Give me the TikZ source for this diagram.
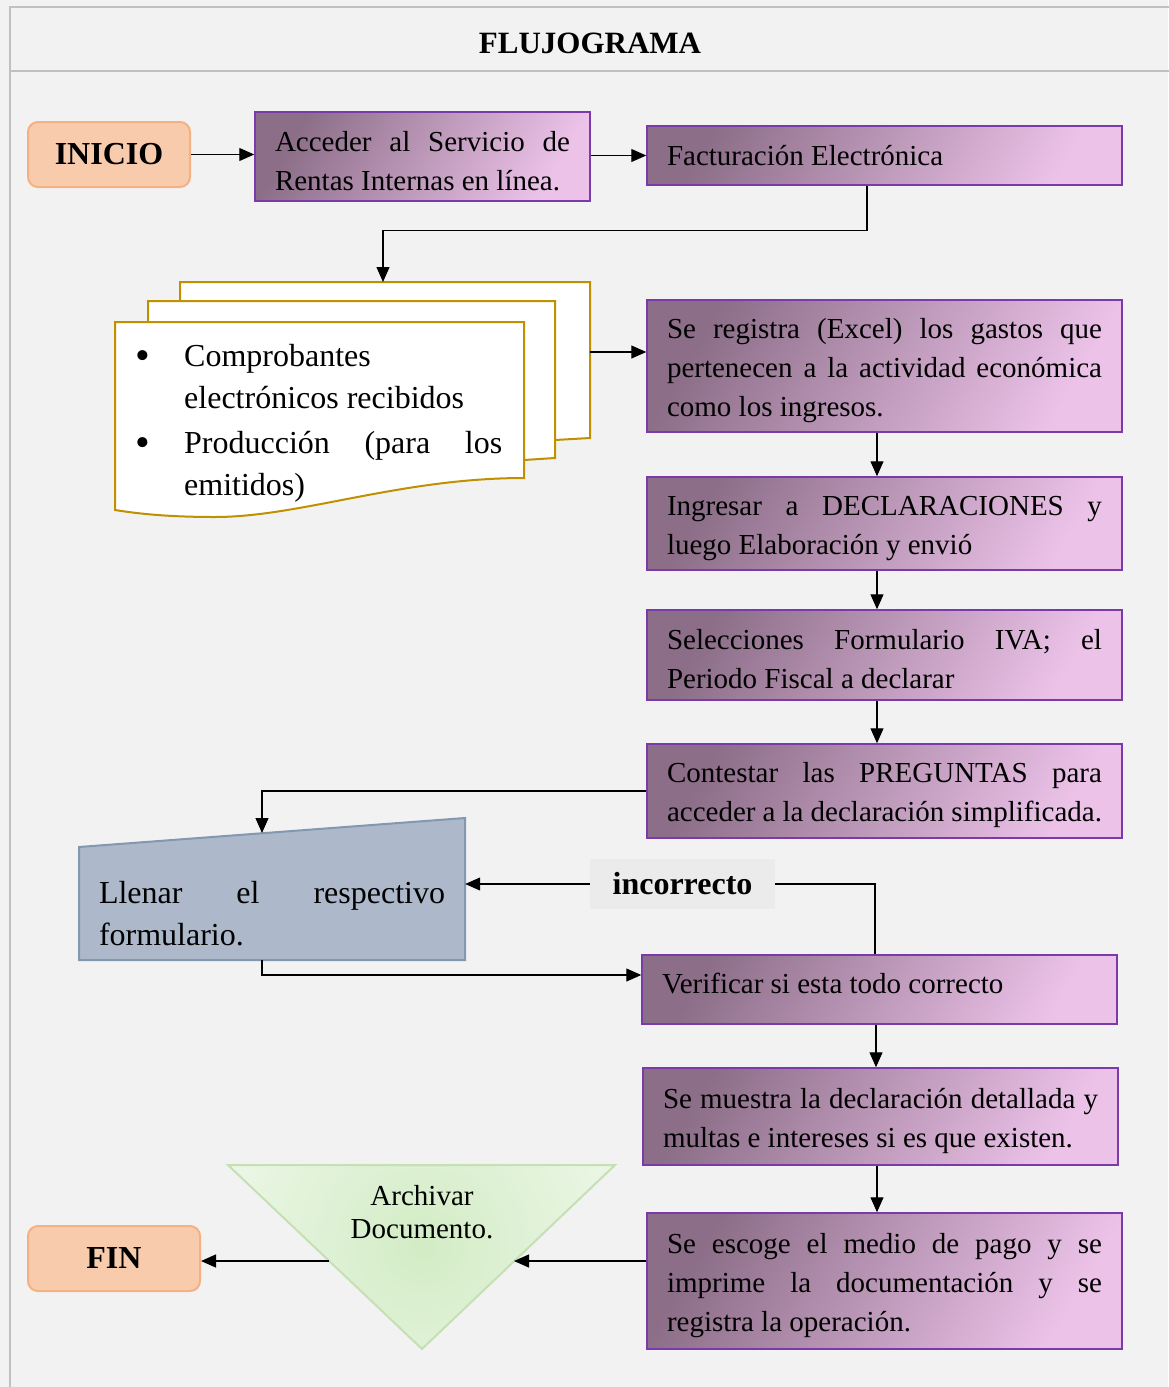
\documentclass[tikz,border=0pt]{standalone}
\usepackage{fontspec}
\setmainfont{Liberation Serif}
\usetikzlibrary{calc, positioning, arrows.meta}
\definecolor{bgGray}{HTML}{F2F2F2}
\definecolor{frameLine}{HTML}{C0C0C0}
\definecolor{peachFill}{HTML}{F8CBAD}
\definecolor{peachLine}{HTML}{F4B183}
\definecolor{boxLine}{HTML}{7A3AAA}
\definecolor{boxDark}{HTML}{8C6E88}
\definecolor{boxLight}{HTML}{ECC2E9}
\definecolor{docLine}{HTML}{BF9000}
\definecolor{slateFill}{HTML}{ADB9CA}
\definecolor{slateLine}{HTML}{8497B0}
\definecolor{greenIn}{HTML}{D3ECC5}
\definecolor{greenOut}{HTML}{EEF8EA}
\definecolor{greenLine}{HTML}{C5E0B4}
\definecolor{labelFill}{HTML}{EBEBEB}
\newcommand{\bodyfont}{\fontsize{29}{39}\selectfont}
\newcommand{\bigfont}{\fontsize{32}{42}\selectfont}
\newcommand{\topstrut}{\rule{0pt}{29pt}}
\newcommand{\lowstrut}{\rule[-13pt]{0pt}{13pt}}
\newcommand{\bigbullet}{\hbox to 69pt{\hspace{20pt}\raisebox{-3pt}{\fontsize{42}{42}\selectfont\textbullet}\hfil}}
\hyphenpenalty=10000
\exhyphenpenalty=10000
\tolerance=10000
\hbadness=10000
\hfuzz=6pt

\begin{document}
\begin{tikzpicture}[x=1pt, y=-1pt,
  flow/.style={-{Triangle[length=15pt,width=13pt]}, line width=1.2pt, black},
  procbox/.style={draw=boxLine, line width=1.5pt, left color=boxDark,
    right color=boxLight, shading angle=60, minimum width=475pt,
    text width=435pt, inner xsep=20pt, inner ysep=0pt, align=justify,
    font=\bodyfont},
  termbox/.style={draw=peachLine, fill=peachFill, line width=2pt,
    rounded corners=10pt, minimum height=65pt, font=\fontsize{32}{38}\selectfont\bfseries}]
  \useasboundingbox (0,0) rectangle (1168,1387);
  \fill[bgGray] (0,0) rectangle (1168,1387);

  % --- Frame and title ---
  \draw[frameLine, line width=2pt] (10,1387) -- (10,7) -- (1170,7);
  \draw[frameLine, line width=2pt] (10,71) -- (1170,71);
  \node[font=\fontsize{31}{37}\selectfont\bfseries] (title) at (590,43) {FLUJOGRAMA};

  % --- Top row ---
  \node[termbox, minimum width=162pt] (inicio) at (109,154.5) {INICIO};
  \node[procbox, minimum width=335pt, text width=295pt, minimum height=89pt]
    (acceder) at (422.5,156.5) {\topstrut Acceder al Servicio de\linebreak Rentas Internas en línea.};
  \node[procbox, minimum height=59pt] (factura) at (884.5,155.5) {Facturación Electrónica};

  % --- Stack of documents ---
  \filldraw[fill=white, draw=docLine, line width=2pt]
    (180,282) -- (590,282) -- (590,438) -- (555,440) -- (180,450) -- cycle;
  \filldraw[fill=white, draw=docLine, line width=2pt]
    (148,301) -- (555,301) -- (555,458) -- (524,460) -- (148,470) -- cycle;
  \filldraw[fill=white, draw=docLine, line width=2pt]
    (115,322) -- (524,322) -- (524,478)
    .. controls (400,478) and (300,517) .. (215,517)
    .. controls (170,517) and (140,514) .. (115,510) -- cycle;
  \coordinate (docTop) at (383,282);
  \coordinate (docRight) at (590,352);
  \node[anchor=north west, inner sep=0pt, text width=387pt, align=justify, font=\bigfont]
    (docs) at (115,344) {%
    \noindent\hangindent=69pt\hangafter=1
    \bigbullet Comprobantes\\
    electrónicos recibidos\par\vspace{3pt}
    \noindent\hangindent=69pt\hangafter=1
    \bigbullet Producción (para los\linebreak
    emitidos)\par};

  % --- Right column ---
  \node[procbox, minimum height=132pt] (registra) at (884.5,366)
    {\topstrut Se registra (Excel) los gastos que\linebreak pertenecen a la actividad económica\linebreak como los ingresos.};
  \node[procbox, minimum height=93pt] (ingresar) at (884.5,523.5)
    {\topstrut Ingresar a DECLARACIONES y\linebreak luego Elaboración y envió};
  \node[procbox, minimum height=90pt] (selecc) at (884.5,655)
    {\topstrut Selecciones Formulario IVA; el\linebreak Periodo Fiscal a declarar};
  \node[procbox, minimum height=94pt] (contestar) at (884.5,791)
    {\topstrut Contestar las PREGUNTAS para\linebreak acceder a la declaración simplificada.};
  \node[procbox, minimum height=69pt] (verificar) at (879.5,989.5)
    {Verificar si esta todo correcto\lowstrut};
  \node[procbox, minimum height=97pt] (muestra) at (880.5,1116.5)
    {\topstrut Se muestra la declaración detallada y\linebreak multas e intereses si es que existen.};
  \node[procbox, minimum height=136pt] (escoge) at (884.5,1281)
    {\topstrut Se escoge el medio de pago y se\linebreak imprime la documentación y se\linebreak registra la operación.};

  % --- Manual input ---
  \filldraw[fill=slateFill, draw=slateLine, line width=2pt]
    (79,847) -- (465,818) -- (465,960) -- (79,960) -- cycle;
  \node[minimum width=386pt, minimum height=100pt, text width=346pt, inner sep=0pt,
    align=justify, font=\bigfont] (llenar) at (272,914)
    {Llenar el respectivo\linebreak formulario.};
  \coordinate (llenarTop) at (262,833);
  \coordinate (llenarBot) at (262,960);
  \node[fill=labelFill, minimum width=185pt, minimum height=50pt, inner sep=0pt,
    font=\fontsize{32}{38}\selectfont\bfseries] (incorrecto) at (682.5,884) {incorrecto};

  % --- Archive and end ---
  \begin{scope}
    \clip (228,1165) -- (615,1165) -- (422,1349) -- cycle;
    \shade[inner color=greenIn, outer color=greenOut] (422,1245) circle (230);
  \end{scope}
  \draw[greenLine, line width=2pt] (228,1165) -- (615,1165) -- (422,1349) -- cycle;
  \node[align=center, font=\fontsize{29}{33}\selectfont] (archivar) at (422,1212)
    {Archivar\\Documento.};
  \coordinate (archR) at (514,1261);
  \coordinate (archL) at (329,1261);
  \node[termbox, minimum width=172pt] (fin) at (114,1258.5) {FIN};

  % --- Connectors ---
  \draw[flow] (inicio.east) -- (inicio.east -| acceder.west);
  \draw[flow] (acceder.east |- factura.west) -- (factura.west);
  \draw[flow] ([xshift=-17.5pt]factura.south) -- ++(0,45) -| (docTop);
  \draw[flow] (docRight) -- (docRight -| registra.west);
  \draw[flow] ([xshift=-7.5pt]registra.south) -- ([xshift=-7.5pt]ingresar.north);
  \draw[flow] ([xshift=-7.5pt]ingresar.south) -- ([xshift=-7.5pt]selecc.north);
  \draw[flow] ([xshift=-7.5pt]selecc.south) -- ([xshift=-7.5pt]contestar.north);
  \draw[flow] (contestar.west) -| (llenarTop);
  \draw[flow] (llenarBot) |- ([yshift=14.5pt]verificar.west);
  \draw[line width=1.2pt] ([xshift=-4.5pt]verificar.north) |- (incorrecto.east);
  \draw[flow] (incorrecto.west) -- (incorrecto.west -| llenar.east);
  \draw[flow] ([xshift=-3.5pt]verificar.south) -- ([xshift=-3.5pt]verificar.south |- muestra.north);
  \draw[flow] ([xshift=-3.5pt]muestra.south) -- ([xshift=-3.5pt]muestra.south |- escoge.north);
  \draw[flow] (escoge.west |- archR) -- (archR);
  \draw[flow] (archL) -- (archL -| fin.east);
\end{tikzpicture}
\end{document}
